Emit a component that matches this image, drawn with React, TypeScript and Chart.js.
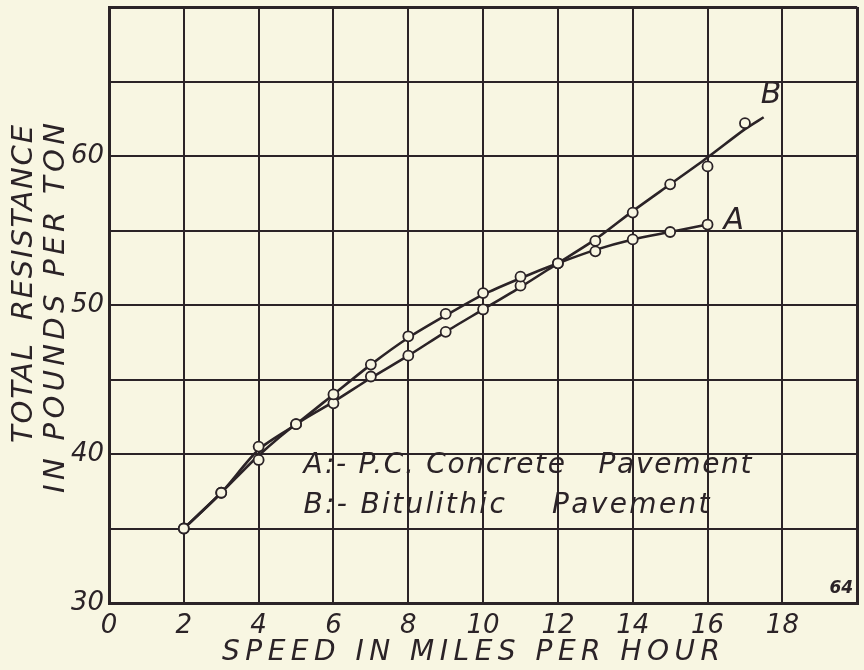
import { useEffect, useRef } from 'react';
import { Chart, registerables } from 'chart.js';

Chart.register(...registerables);

// Observed points (open circles)
const speedA = [2, 3, 4, 5, 6, 7, 8, 9, 10, 11, 12, 13, 14, 15, 16];
const concreteObserved = [35.0, 37.4, 40.5, 42.0, 44.0, 46.0, 47.9, 49.4, 50.8, 51.9, 52.8, 53.6, 54.4, 54.9, 55.4];
const speedB = [2, 3, 4, 5, 6, 7, 8, 9, 10, 11, 12, 13, 14, 15, 16, 17];
const bitulithicObserved = [35.0, 37.4, 39.6, 42.0, 43.4, 45.2, 46.6, 48.2, 49.7, 51.3, 52.8, 54.3, 56.2, 58.1, 59.3, 62.2];

// Faired curves drawn through the points
const curveSpeedA = [2, 3, 4, 5, 6, 7, 8, 9, 10, 11, 12, 13, 14, 15, 16];
const concreteCurve = [35.0, 37.4, 40.3, 42.0, 44.0, 46.0, 47.8, 49.3, 50.7, 51.8, 52.8, 53.7, 54.4, 54.9, 55.4];
const curveSpeedB = [2, 3, 4, 5, 6, 7, 8, 9, 10, 11, 12, 13, 14, 15, 16, 17, 17.5];
const bitulithicCurve = [35.0, 37.4, 39.9, 42.0, 43.5, 45.1, 46.6, 48.2, 49.7, 51.2, 52.8, 54.4, 56.3, 58.1, 59.9, 61.8, 62.6];

const xTickLabels = [0, 2, 4, 6, 8, 10, 12, 14, 16, 18];
const yTickLabels = [30, 40, 50, 60];

const xTitle = 'SPEED IN MILES PER HOUR';
const yTitleLines = ['TOTAL  RESISTANCE', 'IN POUNDS PER TON'];
const legendLines = ['A:- P.C. Concrete   Pavement', 'B:- Bitulithic    Pavement'];
const figureNumber = '64';

const INK = '#2b2327';
const PAPER = '#f8f6e2';
const FONT = "'DejaVu Sans'";

function pts(xs: number[], ys: number[]) {
  return xs.map((x, i) => ({ x, y: ys[i] }));
}

function spacedText(ctx: CanvasRenderingContext2D, text: string, x: number, y: number, width: number) {
  (ctx as any).letterSpacing = '0px';
  const w = ctx.measureText(text).width;
  const sp = (width - w) / Math.max(1, text.length - 1);
  (ctx as any).letterSpacing = sp + 'px';
  ctx.textAlign = 'left';
  ctx.fillText(text, x - width / 2, y);
  (ctx as any).letterSpacing = '0px';
}

const textPlugin = {
  id: 'handLettering',
  beforeDraw(chart: any) {
    const { ctx, width, height } = chart;
    ctx.save();
    ctx.fillStyle = PAPER;
    ctx.fillRect(0, 0, width, height);
    ctx.restore();
  },
  afterDraw(chart: any) {
    const { ctx } = chart;
    const xs = chart.scales.x;
    const ys = chart.scales.y;
    ctx.save();
    ctx.fillStyle = INK;
    ctx.textBaseline = 'middle';

    // x title
    ctx.font = `italic 28px ${FONT}`;
    spacedText(ctx, xTitle, 471, 653, 498);

    // y title (two lines, rotated)
    ctx.font = `italic 29px ${FONT}`;
    ctx.save();
    ctx.translate(24, 284);
    ctx.rotate(-Math.PI / 2);
    spacedText(ctx, yTitleLines[0], 0, 0, 318);
    ctx.restore();
    ctx.save();
    ctx.translate(56, 308);
    ctx.rotate(-Math.PI / 2);
    spacedText(ctx, yTitleLines[1], 0, 0, 370);
    ctx.restore();

    // legend text
    ctx.font = `italic 28px ${FONT}`;
    const lx = xs.getPixelForValue(5.2);
    spacedText(ctx, legendLines[0], lx + 224, ys.getPixelForValue(39.2), 448);
    spacedText(ctx, legendLines[1], lx + 203, ys.getPixelForValue(36.5), 406);

    // curve letters
    ctx.font = `italic 30px ${FONT}`;
    ctx.textAlign = 'center';
    ctx.fillText('A', xs.getPixelForValue(16.7), ys.getPixelForValue(55.6));
    ctx.fillText('B', xs.getPixelForValue(17.7), ys.getPixelForValue(64.1));

    // figure number
    ctx.font = `bold italic 17px ${FONT}`;
    ctx.textAlign = 'right';
    ctx.fillText(figureNumber, chart.chartArea.right - 4, chart.chartArea.bottom - 14);
    ctx.restore();
  },
};

export default function App() {
  const ref = useRef<HTMLCanvasElement>(null);

  useEffect(() => {
    document.body.style.margin = '0';
    document.body.style.background = PAPER;
    const canvas = ref.current!;
    const markerStyle = {
      showLine: false,
      pointRadius: 5,
      pointBorderWidth: 1.8,
      pointBackgroundColor: PAPER,
      pointBorderColor: INK,
      borderColor: INK,
      backgroundColor: PAPER,
      order: 0,
    };
    const curveStyle = {
      showLine: true,
      pointRadius: 0,
      borderWidth: 2.6,
      borderColor: INK,
      tension: 0.25,
      fill: false,
      order: 1,
    };
    const chart = new Chart(canvas, {
      type: 'scatter',
      data: {
        datasets: [
          { label: 'A observed', data: pts(speedA, concreteObserved), ...markerStyle },
          { label: 'B observed', data: pts(speedB, bitulithicObserved), ...markerStyle },
          { label: 'A: P.C. Concrete Pavement', data: pts(curveSpeedA, concreteCurve), ...curveStyle },
          { label: 'B: Bitulithic Pavement', data: pts(curveSpeedB, bitulithicCurve), ...curveStyle },
        ],
      },
      options: {
        animation: false,
        responsive: false,
        devicePixelRatio: 1,
        layout: { padding: { top: 7, right: 6, left: 0, bottom: 0 } },
        plugins: { legend: { display: false }, tooltip: { enabled: false } },
        scales: {
          x: {
            type: 'linear',
            min: 0,
            max: 20,
            afterFit: (s: any) => { s.height = 67; s.paddingLeft = 0; s.paddingRight = 0; },
            afterBuildTicks: (s: any) => {
              s.ticks = [...xTickLabels, 20].map((v) => ({ value: v }));
            },
            ticks: {
              padding: 8,
              color: INK,
              font: { family: FONT, size: 26, style: 'italic' },
              maxRotation: 0,
              autoSkip: false,
              callback: (v: any) => (xTickLabels.includes(Number(v)) ? String(v) : ''),
            },
            grid: {
              color: INK,
              drawTicks: false,
              lineWidth: (c: any) => (c.tick && (c.tick.value === 20 || c.tick.value === 0) ? 3 : 2),
            },
            border: { display: true, color: INK, width: 3 },
          },
          y: {
            type: 'linear',
            min: 30,
            max: 70,
            afterFit: (s: any) => { s.width = 109; s.paddingTop = 0; s.paddingBottom = 0; },
            ticks: {
              stepSize: 5,
              padding: 5,
              color: INK,
              font: { family: FONT, size: 26, style: 'italic' },
              callback: (v: any) => (yTickLabels.includes(Number(v)) ? String(v) : ''),
            },
            grid: {
              color: INK,
              drawTicks: false,
              lineWidth: (c: any) => (c.tick && (c.tick.value === 70 || c.tick.value === 30) ? 3 : 2),
            },
            border: { display: true, color: INK, width: 3 },
          },
        },
      },
      plugins: [textPlugin],
    } as any);
    return () => chart.destroy();
  }, []);

  return (
    <div style={{ width: 864, height: 670, background: PAPER }}>
      <canvas ref={ref} width={864} height={670} style={{ display: 'block' }} />
    </div>
  );
}
